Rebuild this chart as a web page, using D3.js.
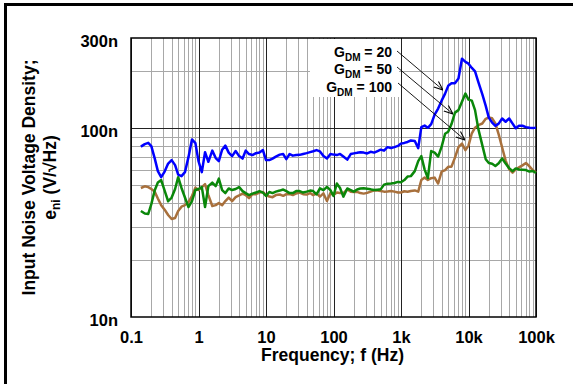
<!DOCTYPE html>
<html>
<head>
<meta charset="utf-8">
<script src="https://cdn.jsdelivr.net/npm/d3@7"></script>
<style>
  body { margin: 0; background: #fff; }
  svg { display: block; font-family: "Liberation Sans", Arial, sans-serif; font-weight: bold; }
</style>
</head>
<body>
<div id="chart"></div>
<script>
// Frequency points (Hz), shared by the three curves
const freqHz = [
  0.14, 0.16, 0.18, 0.2, 0.224, 0.25, 0.28, 0.315, 0.355, 0.4, 0.45, 0.5, 0.56, 0.63, 0.71, 0.8, 0.9,
  1, 1.12, 1.25, 1.4, 1.6, 1.8, 2, 2.24, 2.5, 2.8, 3.15, 3.55, 4, 4.5, 5, 5.6, 6.3, 7.1, 8, 9,
  10, 11.2, 12.5, 14, 16, 18, 20, 22.4, 25, 28, 31.5, 35.5, 40, 45, 50, 56, 63, 71, 80, 90,
  100, 112, 125, 140, 160, 180, 200, 224, 250, 280, 315, 355, 400, 450, 500, 560, 630, 710, 800, 900,
  1000, 1120, 1250, 1400, 1600, 1800, 2000, 2240, 2500, 2800, 3150, 3550, 4000, 4500, 5000, 5600, 6300, 7100, 8000, 9000,
  10000, 11200, 12500, 14000, 16000, 18000, 20000, 22400, 25000, 28000, 31500, 35500, 40000, 45000, 50000, 56000, 63000, 71000, 80000, 90000,
  100000
];

// Noise density in nV/rtHz
const gdm20 = [
  79.8, 82.3, 83.6, 80.3, 69.4, 59.2, 55.0, 58.9, 64.9, 67.7, 63.7, 56.7, 55.7, 58.5, 70.2, 87.1, 83.3,
  66.9, 58.5, 74.6, 66.3, 76.0, 69.4, 66.9, 76.9, 80.8, 74.2, 71.1, 75.6, 71.1, 69.0, 76.0, 72.9, 72.0, 73.7, 74.2, 76.5,
  67.7, 67.7, 69.0, 70.7, 72.4, 72.9, 68.5, 72.9, 71.5, 72.0, 72.2, 73.0, 73.7, 74.6, 75.4, 76.5, 75.3, 71.1, 69.0, 72.9,
  72.4, 72.0, 73.0, 70.7, 68.1, 72.9, 73.5, 74.0, 74.6, 74.2, 73.4, 74.9, 74.2, 75.6, 76.9, 76.0, 79.3, 78.4, 79.3, 80.5,
  82.8, 83.5, 84.5, 86.0, 85.4, 78.4, 101.2, 103.1, 100.4, 105.0, 117.9, 126.9, 139.8, 152.3, 167.4, 172.6, 173.0, 183.0, 233.2, 224.3,
  219.4, 208.2, 199.5, 175.1, 151.3, 131.2, 113.7, 106.9, 102.8, 105.6, 112.4, 108.1, 112.5, 105.6, 99.8, 103.0, 102.9, 101.2, 100.4, 100.0,
  100.6
];
const gdm50 = [
  36.4, 35.3, 35.1, 39.6, 46.7, 51.5, 53.1, 46.7, 41.0, 42.9, 47.6, 55.0, 48.2, 42.9, 38.2, 41.1, 47.0,
  47.6, 48.7, 38.2, 49.3, 51.5, 49.3, 54.0, 47.0, 45.3, 47.9, 47.0, 47.6, 48.7, 46.4, 45.3, 44.2, 45.0, 45.6, 46.4, 45.6,
  43.7, 45.9, 45.3, 46.1, 46.7, 47.3, 46.4, 45.3, 45.3, 46.4, 46.4, 45.6, 46.1, 46.7, 46.4, 44.6, 48.0, 47.0, 48.9, 47.0,
  43.7, 50.9, 48.2, 43.4, 47.9, 47.0, 46.1, 47.3, 47.9, 48.0, 47.7, 47.4, 47.0, 47.2, 47.4, 50.2, 50.7, 50.9, 51.2, 51.9,
  51.7, 53.1, 55.4, 55.7, 59.2, 66.9, 71.1, 60.3, 54.4, 75.6, 74.2, 70.7, 79.8, 93.4, 95.6, 105.0, 120.8, 124.5, 138.0, 152.3,
  141.5, 139.8, 124.5, 98.8, 81.3, 68.5, 65.3, 64.7, 63.0, 65.1, 69.1, 64.9, 61.4, 59.2, 61.2, 60.4, 60.2, 60.0, 58.9, 59.3,
  57.9
];
const gdm100 = [
  48.2, 49.2, 48.7, 47.6, 46.1, 42.4, 39.1, 37.0, 34.7, 33.0, 33.4, 36.4, 38.4, 39.1, 40.6, 43.7, 48.4,
  47.0, 48.7, 50.5, 44.2, 38.7, 39.1, 40.1, 39.1, 41.1, 42.9, 41.1, 43.1, 44.0, 45.0, 44.2, 42.6, 44.7, 44.7, 45.6, 45.9,
  44.2, 43.4, 43.1, 44.2, 44.5, 43.8, 44.7, 44.7, 44.2, 45.1, 45.6, 44.7, 44.5, 45.3, 44.2, 45.1, 43.4, 45.1, 41.1, 45.3,
  44.2, 45.6, 45.3, 45.3, 47.3, 46.1, 45.9, 46.0, 45.3, 45.0, 45.4, 46.1, 46.8, 46.7, 46.5, 46.1, 46.2, 46.5, 46.1, 45.6,
  45.6, 46.3, 46.0, 46.5, 46.8, 46.1, 53.1, 54.7, 53.2, 54.3, 54.7, 50.9, 58.9, 60.0, 62.4, 62.5, 69.8, 79.3, 82.8, 76.5,
  80.8, 93.9, 100.6, 103.7, 105.8, 112.0, 113.8, 112.7, 106.0, 92.7, 78.9, 67.3, 60.7, 58.1, 60.4, 62.0, 63.5, 65.4, 62.7, 59.8,
  58.3
];

const xTickVals = [0.1, 1, 10, 100, 1e3, 1e4, 1e5];
const xTickLabels = ["0.1", "1", "10", "100", "1k", "10k", "100k"];
const yTickVals = [10, 100, 300];
const yTickLabels = ["10n", "100n", "300n"];
const gainLabels = ["20", "50", "100"];

const drawChart = (containerId) => {
    const width = 573;
    const height = 384;
    const plot = { left: 131, right: 536, top: 38, bottom: 317 };

    const svg = d3.select(containerId)
        .append("svg")
        .attr("width", width)
        .attr("height", height);

    const xScale = d3.scaleLog().domain([0.1, 1e5]).range([plot.left, plot.right]);
    const yScale = d3.scaleLog().domain([10, 300]).range([plot.bottom, plot.top]);

    // outer frame (top and left edges only are visible)
    svg.append("path")
        .attr("d", `M5.5,384 V4.5 H573`)
        .attr("fill", "none")
        .attr("stroke", "#000")
        .attr("stroke-width", 3);

    // minor + major grid
    const minorX = xScale.ticks().filter(v => !xTickVals.some(t => Math.abs(t - v) / t < 1e-6));
    const minorY = [20, 30, 40, 50, 60, 70, 80, 90, 200];

    const grid = svg.append("g");
    grid.selectAll(".vx").data(minorX).join("line")
        .attr("x1", d => Math.round(xScale(d)) + 0.5).attr("x2", d => Math.round(xScale(d)) + 0.5)
        .attr("y1", plot.top).attr("y2", plot.bottom)
        .attr("stroke", "#a8a8a8").attr("stroke-width", 1);
    grid.selectAll(".hy").data(minorY).join("line")
        .attr("x1", plot.left).attr("x2", plot.right)
        .attr("y1", d => Math.round(yScale(d)) + 0.5).attr("y2", d => Math.round(yScale(d)) + 0.5)
        .attr("stroke", "#a8a8a8").attr("stroke-width", 1);
    grid.selectAll(".vmaj").data(xTickVals).join("line")
        .attr("x1", d => Math.round(xScale(d)) + 0.5).attr("x2", d => Math.round(xScale(d)) + 0.5)
        .attr("y1", plot.top).attr("y2", plot.bottom)
        .attr("stroke", "#222").attr("stroke-width", 1);
    grid.selectAll(".hmaj").data([100]).join("line")
        .attr("x1", plot.left).attr("x2", plot.right)
        .attr("y1", d => Math.round(yScale(d)) + 0.5).attr("y2", d => Math.round(yScale(d)) + 0.5)
        .attr("stroke", "#222").attr("stroke-width", 1);

    // legend background hides the grid
    svg.append("rect")
        .attr("x", 310).attr("y", plot.top + 1)
        .attr("width", 89).attr("height", 58)
        .attr("fill", "#fff");

    // plot border
    svg.append("rect")
        .attr("x", plot.left).attr("y", plot.top)
        .attr("width", plot.right - plot.left).attr("height", plot.bottom - plot.top)
        .attr("fill", "none").attr("stroke", "#000").attr("stroke-width", 1.5);

    // curves
    const series = [
        { values: gdm100, color: "#a8703c" },
        { values: gdm50, color: "#0a870a" },
        { values: gdm20, color: "#0000ff" }
    ];
    const line = d3.line()
        .x(d => xScale(d[0]))
        .y(d => yScale(d[1]));
    svg.append("g").selectAll("path").data(series).join("path")
        .attr("d", s => line(freqHz.map((f, i) => [f, s.values[i]])))
        .attr("fill", "none")
        .attr("stroke", s => s.color)
        .attr("stroke-width", 2.5)
        .attr("stroke-linejoin", "round");

    // axes (labels only)
    const bottomAxis = d3.axisBottom(xScale)
        .tickValues(xTickVals)
        .tickFormat((d, i) => xTickLabels[i])
        .tickSize(0).tickPadding(0);
    const xAxis = svg.append("g")
        .attr("transform", `translate(0,${plot.bottom})`)
        .call(bottomAxis);
    xAxis.select(".domain").remove();
    xAxis.selectAll("text")
        .attr("y", 26).attr("dy", null)
        .attr("font-size", 16.5).attr("font-weight", "bold")
        .attr("font-family", "Liberation Sans, Arial, sans-serif")
        .attr("fill", "#000");

    const leftAxis = d3.axisLeft(yScale)
        .tickValues(yTickVals)
        .tickFormat((d, i) => yTickLabels[i])
        .tickSize(0).tickPadding(0);
    const yAxis = svg.append("g")
        .attr("transform", `translate(118,0)`)
        .call(leftAxis);
    yAxis.select(".domain").remove();
    yAxis.selectAll("text")
        .attr("x", 0).attr("dy", 8)
        .attr("font-size", 16.5).attr("font-weight", "bold")
        .attr("font-family", "Liberation Sans, Arial, sans-serif")
        .attr("fill", "#000");

    // axis titles
    svg.append("text")
        .attr("x", (plot.left + plot.right) / 2 - 1)
        .attr("y", 361)
        .attr("text-anchor", "middle")
        .attr("font-size", 17.5)
        .text("Frequency; f (Hz)");

    const midY = (plot.top + plot.bottom) / 2;
    svg.append("text")
        .attr("transform", `translate(35,${midY}) rotate(-90)`)
        .attr("text-anchor", "middle")
        .attr("font-size", 17.5)
        .text("Input Noise Voltage Density;");
    const t2 = svg.append("text")
        .attr("transform", `translate(56,${midY}) rotate(-90)`)
        .attr("text-anchor", "middle")
        .attr("font-size", 17.5);
    t2.append("tspan").text("e");
    t2.append("tspan").attr("font-size", 12).attr("dy", 4).text("ni");
    t2.append("tspan").attr("dy", -4).text(" (V/\u221AHz)");

    // legend labels with arrows
    svg.append("defs").append("marker")
        .attr("id", "arrow")
        .attr("viewBox", "0 0 10 10")
        .attr("refX", 10).attr("refY", 5)
        .attr("markerWidth", 9).attr("markerHeight", 9)
        .attr("markerUnits", "userSpaceOnUse")
        .attr("orient", "auto")
        .append("path")
        .attr("d", "M0,1 L10,5 L0,9")
        .attr("fill", "none").attr("stroke", "#000").attr("stroke-width", 1.2);

    const legendY = [57, 74, 91.5];
    const arrowFrom = [[397, 51], [397, 67], [398, 83]];
    const arrowTo = [[443, 90], [453, 114], [465, 140]];

    gainLabels.forEach((g, i) => {
        const t = svg.append("text")
            .attr("x", 392).attr("y", legendY[i])
            .attr("text-anchor", "end")
            .attr("font-size", 14);
        t.append("tspan").text("G");
        t.append("tspan").attr("font-size", 10).attr("dy", 4).text("DM");
        t.append("tspan").attr("dy", -4).text(" = " + g);

        svg.append("line")
            .attr("x1", arrowFrom[i][0]).attr("y1", arrowFrom[i][1])
            .attr("x2", arrowTo[i][0]).attr("y2", arrowTo[i][1])
            .attr("stroke", "#000").attr("stroke-width", 0.9)
            .attr("marker-end", "url(#arrow)");
    });
};

drawChart("#chart");
</script>
</body>
</html>
